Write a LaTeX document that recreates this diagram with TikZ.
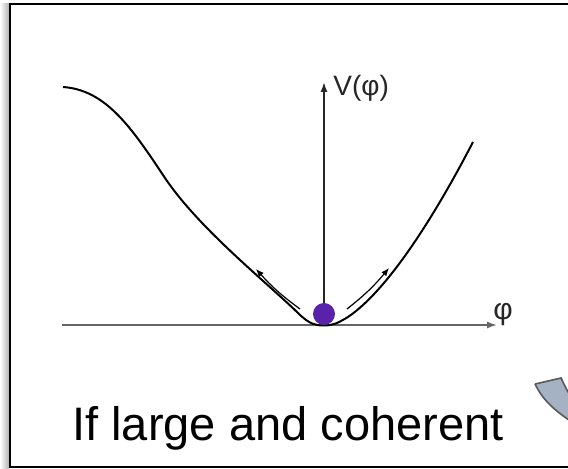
\documentclass[tikz,border=0pt]{standalone}
\usepackage{fontspec}
\setmainfont{Liberation Sans}
\usetikzlibrary{arrows.meta}

\definecolor{ballpurple}{RGB}{88,34,170}
\definecolor{bandgrey}{RGB}{164,178,195}

\begin{document}
\begin{tikzpicture}[x=0.5pt,y=-0.5pt,
  axis/.style={line width=0.8pt,-{Latex[length=5pt,width=3.5pt]}},
  swing/.style={line width=0.6pt,-{Latex[length=4pt,width=3.2pt]}},
  potential/.style={line width=1pt,line join=round}]
\useasboundingbox (0,0) rectangle (568,469);
% frame with its shadow
\shade[left color=white,right color=black!30] (0,4) rectangle (9,469);
\draw[line width=1pt] (568,4) -- (10,4) -- (10,467) -- (568,467);
% axes
\coordinate (origin) at (324,325);
\coordinate (vtop) at (324,82);
\coordinate (hleft) at (62,325);
\coordinate (hright) at (497,325);
\draw[axis,black!60] (hleft) -- (hright);
\draw[axis,black!85] (origin) -- (vtop);
\node[anchor=west,inner sep=0,font=\fontsize{14}{14}\selectfont,text=black!85] (vlabel) at (333,88) {V(φ)};
\node[inner sep=0,font=\fontsize{15}{15}\selectfont,text=black!85] (philabel) at (503,315) {φ};
% the potential
\draw[potential] (63,87) .. controls (105,90) and (130,125) .. (165,178)
  .. controls (200,230) and (270,285) .. (300,315)
  .. controls (310,324) and (315,325.5) .. (324,325.5)
  .. controls (333,325.5) and (338,323) .. (348,317)
  .. controls (385,292) and (430,225) .. (473,142);
% the field sitting in the minimum
\coordinate (swingLtail) at (300,309);
\coordinate (swingLhead) at (256,269);
\coordinate (swingRtail) at (347,309);
\coordinate (swingRhead) at (389,268);
\draw[swing] (swingLtail) to[bend left=6] (swingLhead);
\draw[swing] (swingRtail) to[bend right=6] (swingRhead);
\node[circle,fill=ballpurple,minimum size=11pt,inner sep=0] (ball) at (324,314) {};
% caption
\node[anchor=base west,inner sep=0,font=\fontsize{23.5}{28}\selectfont] (caption) at (72,441) {If large and coherent};
% band coming in from the right
\begin{scope}
\clip (0,0) rectangle (568,469);
\filldraw[fill=bandgrey,draw=black!65,line width=0.8pt] (535,384) -- (561,378)
  .. controls (565,386) and (568,394) .. (578,406) -- (578,426)
  .. controls (553,410) and (543,400) .. (535,384);
\end{scope}
\end{tikzpicture}
\end{document}
